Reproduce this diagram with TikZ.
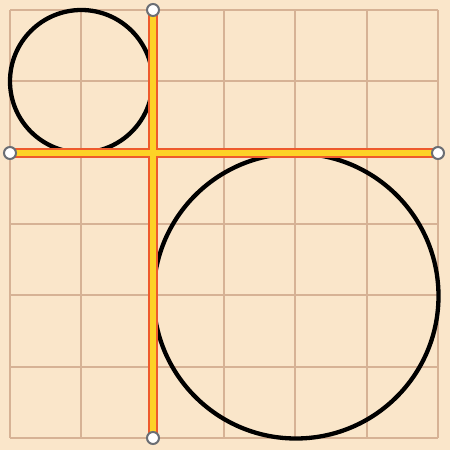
\documentclass[tikz,border=0pt]{standalone}
\begin{document}
\begin{tikzpicture}[x=1pt,y=-1pt,
  gridline/.style={draw=gridc,line width=2.3pt},
  ring/.style={draw=black,line width=4.3pt},
  railout/.style={draw=railred,line width=10.5pt},
  railin/.style={draw=railyel,line width=6.5pt},
  handle/.style={circle,draw=handlegray,fill=white,line width=2pt,minimum size=12pt,inner sep=0pt}]
\definecolor{bgc}{HTML}{FAE6CA}
\definecolor{gridc}{HTML}{D6B295}
\definecolor{railred}{HTML}{EE5A2C}
\definecolor{railyel}{HTML}{FDD226}
\definecolor{handlegray}{HTML}{6A6E74}
\fill[bgc] (0,0) rectangle (450,450);
\useasboundingbox (0,0) rectangle (450,450);
\foreach \i in {0,...,6}{
  \draw[gridline] ({10+\i*71.33},10) -- ({10+\i*71.33},438);
  \draw[gridline] (10,{10+\i*71.33}) -- (438,{10+\i*71.33});
}
\draw[ring] (81.3,81.3) circle (71.3);
\draw[ring] (296,296) circle (142.5);
\coordinate (top) at (153,10);
\coordinate (bot) at (153,438);
\coordinate (lft) at (10,153);
\coordinate (rgt) at (438,153);
\draw[railout] (top) -- (bot);
\draw[railout] (lft) -- (rgt);
\draw[railin] (top) -- (bot);
\draw[railin] (lft) -- (rgt);
\node[handle] (htop) at (top) {};
\node[handle] (hbot) at (bot) {};
\node[handle] (hlft) at (lft) {};
\node[handle] (hrgt) at (rgt) {};
\end{tikzpicture}
\end{document}
